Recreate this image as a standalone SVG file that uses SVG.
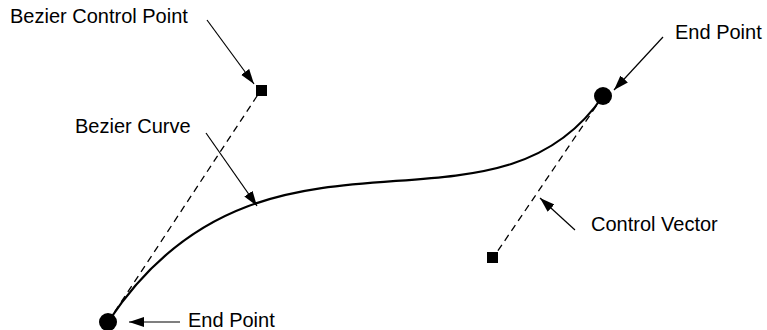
<svg xmlns="http://www.w3.org/2000/svg" width="767" height="330" viewBox="0 0 767 330">
<style>
  text { font-family: "Liberation Sans", Arial, sans-serif; font-size: 20px; fill: #000; }
  .dash { stroke: #000; stroke-width: 1.3; stroke-dasharray: 7 5; fill: none; }
  .curve { stroke: #000; stroke-width: 2.2; fill: none; }
  .lead { stroke: #000; stroke-width: 1.2; fill: none; marker-end: url(#ah); }
</style>
<defs>
  <marker id="ah" markerWidth="16" markerHeight="12" refX="15" refY="5" orient="auto" markerUnits="userSpaceOnUse">
    <path d="M0,0 L15,5 L0,10 Z" fill="#000"/>
  </marker>
</defs>
<rect width="767" height="330" fill="#fff"/>
<g id="connectors">
  <line class="dash" x1="108" y1="322" x2="261" y2="90"/>
  <line class="dash" x1="603" y1="96" x2="493" y2="258"/>
  <path class="curve" d="M108,322 C261,90 493,258 603,96"/>
  <line class="lead" x1="207" y1="20" x2="254" y2="84"/>
  <line class="lead" x1="663" y1="37" x2="614" y2="90"/>
  <line class="lead" x1="206" y1="133" x2="257" y2="206"/>
  <line class="lead" x1="575" y1="230" x2="540" y2="198"/>
  <line class="lead" x1="180" y1="322" x2="129" y2="322"/>
</g>
<g id="control-point-1"><rect x="256" y="85" width="11" height="11" fill="#000"/></g>
<g id="control-point-2"><rect x="487" y="252" width="11" height="11" fill="#000"/></g>
<g id="end-point-1"><circle cx="108" cy="322" r="9" fill="#000"/></g>
<g id="end-point-2"><circle cx="603" cy="96" r="9" fill="#000"/></g>
<g id="label-control-point"><text x="10" y="23">Bezier Control Point</text></g>
<g id="label-end-point-top"><text x="675" y="39">End Point</text></g>
<g id="label-curve"><text x="75" y="133">Bezier Curve</text></g>
<g id="label-control-vector"><text x="591" y="231">Control Vector</text></g>
<g id="label-end-point-bottom"><text x="188" y="327">End Point</text></g>
</svg>
